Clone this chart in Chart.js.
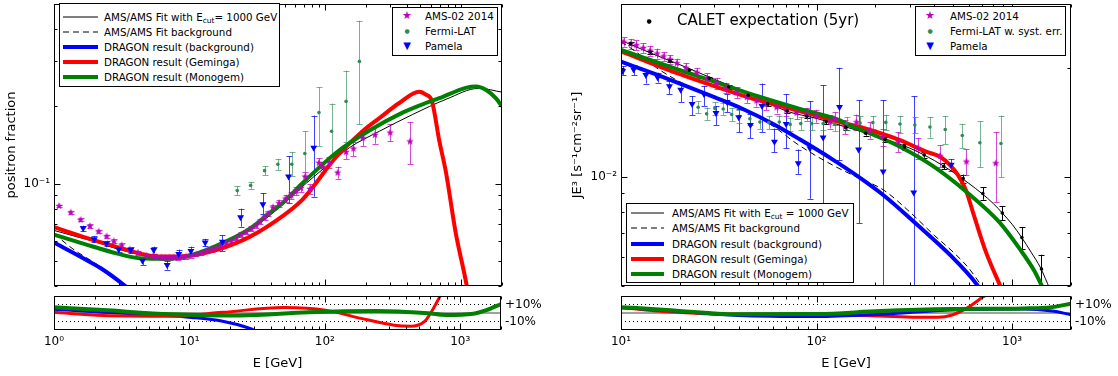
<!DOCTYPE html>
<html><head><meta charset="utf-8">
<script src="https://cdn.jsdelivr.net/npm/chart.js@4.4.1/dist/chart.umd.min.js"></script>
<style>
html,body{margin:0;padding:0;background:#fff;}
body{position:relative;width:1118px;height:376px;overflow:hidden;font-family:'DejaVu Sans',sans-serif;color:#000;}
canvas{position:absolute;}
.leg{position:absolute;border:1px solid #000;background:#fff;box-sizing:border-box;font-size:10.3px;}
.row{position:absolute;left:0;right:0;height:14px;line-height:14px;white-space:nowrap;}
.row svg{position:absolute;top:0;}
.row .t{position:absolute;top:0;}
.mk{position:absolute;top:0;width:16px;text-align:center;}
sub{font-size:7.5px;vertical-align:-2px;line-height:0;}
</style></head><body>
<canvas id="cLm" width="548" height="290" style="left:0;top:0"></canvas>
<canvas id="cLr" width="548" height="80" style="left:0;top:294px"></canvas>
<canvas id="cRm" width="558" height="290" style="left:560px;top:0"></canvas>
<canvas id="cRr" width="558" height="80" style="left:560px;top:294px"></canvas>

<div class="leg" style="left:59px;top:3px;width:221px;height:84px">
 <div class="row" style="top:6px"><svg style="left:3px" width="35" height="14"><line x1="0" y1="7" x2="35" y2="7" stroke="#000" stroke-width="1"/></svg><span class="t" style="left:44px">AMS/AMS Fit with E<sub>cut</sub>= 1000 GeV</span></div>
 <div class="row" style="top:21px"><svg style="left:3px" width="35" height="14"><line x1="0" y1="7" x2="35" y2="7" stroke="#000" stroke-width="1" stroke-dasharray="6,4"/></svg><span class="t" style="left:44px">AMS/AMS Fit background</span></div>
 <div class="row" style="top:36px"><svg style="left:3px" width="35" height="14"><line x1="0" y1="7" x2="35" y2="7" stroke="#0000ff" stroke-width="4"/></svg><span class="t" style="left:44px">DRAGON result (background)</span></div>
 <div class="row" style="top:51px"><svg style="left:3px" width="35" height="14"><line x1="0" y1="7" x2="35" y2="7" stroke="#ff0000" stroke-width="4"/></svg><span class="t" style="left:44px">DRAGON result (Geminga)</span></div>
 <div class="row" style="top:66px"><svg style="left:3px" width="35" height="14"><line x1="0" y1="7" x2="35" y2="7" stroke="#008000" stroke-width="4"/></svg><span class="t" style="left:44px">DRAGON result (Monogem)</span></div>
</div>

<div class="leg" style="left:392px;top:7px;width:106px;height:49px">
 <div class="row" style="top:1px"><span class="mk" style="left:6px;color:#bf00bf;font-size:11px">★</span><span class="t" style="left:32px">AMS-02 2014</span></div>
 <div class="row" style="top:16px"><span class="mk" style="left:6px;color:#2e8b57;font-size:6px">●</span><span class="t" style="left:32px">Fermi-LAT</span></div>
 <div class="row" style="top:31px"><span class="mk" style="left:6px;color:#0000ff;font-size:10px">▼</span><span class="t" style="left:32px">Pamela</span></div>
</div>

<div class="leg" style="left:915px;top:6px;width:151px;height:50px">
 <div class="row" style="top:2px"><span class="mk" style="left:6px;color:#bf00bf;font-size:11px">★</span><span class="t" style="left:34px">AMS-02 2014</span></div>
 <div class="row" style="top:17px"><span class="mk" style="left:6px;color:#2e8b57;font-size:6px">●</span><span class="t" style="left:34px">Fermi-LAT w. syst. err.</span></div>
 <div class="row" style="top:32px"><span class="mk" style="left:6px;color:#0000ff;font-size:10px">▼</span><span class="t" style="left:34px">Pamela</span></div>
</div>

<div style="position:absolute;left:641px;top:11px;width:16px;text-align:center;font-size:6px;line-height:20px">●</div>
<div style="position:absolute;left:677px;top:10px;font-size:15px;line-height:20px;white-space:nowrap">CALET expectation (5yr)</div>

<div class="leg" style="left:626px;top:203px;width:228px;height:80px">
 <div class="row" style="top:2px"><svg style="left:4px" width="33" height="14"><line x1="0" y1="7" x2="33" y2="7" stroke="#000" stroke-width="1"/></svg><span class="t" style="left:45px">AMS/AMS Fit with E<sub>cut</sub> = 1000 GeV</span></div>
 <div class="row" style="top:17px"><svg style="left:4px" width="33" height="14"><line x1="0" y1="7" x2="33" y2="7" stroke="#000" stroke-width="1" stroke-dasharray="6,4"/></svg><span class="t" style="left:45px">AMS/AMS Fit background</span></div>
 <div class="row" style="top:33px"><svg style="left:4px" width="33" height="14"><line x1="0" y1="7" x2="33" y2="7" stroke="#0000ff" stroke-width="4"/></svg><span class="t" style="left:45px">DRAGON result (background)</span></div>
 <div class="row" style="top:48px"><svg style="left:4px" width="33" height="14"><line x1="0" y1="7" x2="33" y2="7" stroke="#ff0000" stroke-width="4"/></svg><span class="t" style="left:45px">DRAGON result (Geminga)</span></div>
 <div class="row" style="top:63px"><svg style="left:4px" width="33" height="14"><line x1="0" y1="7" x2="33" y2="7" stroke="#008000" stroke-width="4"/></svg><span class="t" style="left:45px">DRAGON result (Monogem)</span></div>
</div>

<script>
// ================= LEFT PANEL: positron fraction =================
const xTicksLeft = [1, 10, 100, 1000];
const xTickLabelsLeft = ['10⁰', '10¹', '10²', '10³'];
const yTickLeft = [0.1];
const yTickLabelLeft = ['10⁻¹'];

const fitL_E = [1, 1.5, 2, 3, 4, 5, 7, 10, 15, 20, 30, 50, 70, 100, 150, 250, 440, 775, 1350, 2000];
const fitL_V = [0.0658, 0.062, 0.0595, 0.0555, 0.0535, 0.0522, 0.0515, 0.0523, 0.0565, 0.0605, 0.068, 0.084, 0.099, 0.116, 0.138, 0.160, 0.186, 0.213, 0.235, 0.227];
const bkgL_E = [1, 1.27, 1.47, 1.74, 2.2, 3.2, 4.5];
const bkgL_V = [0.064, 0.0576, 0.0544, 0.0515, 0.0475, 0.041, 0.035];
const blueL_E = [1, 1.64, 2.2, 3.23, 4.5];
const blueL_V = [0.059, 0.0513, 0.047, 0.0406, 0.035];
const redL_E = [1, 1.64, 2.89, 5.08, 7.1, 10, 15.7, 27.6, 48.6, 68, 120, 188, 250, 350, 490, 550, 610, 690, 775, 910, 1100, 1200];
const redL_V = [0.0677, 0.0621, 0.0568, 0.0525, 0.0521, 0.0525, 0.0552, 0.0621, 0.075, 0.0869, 0.127, 0.160, 0.180, 0.206, 0.228, 0.222, 0.209, 0.147, 0.11, 0.0648, 0.040, 0.030];
const greenL_E = [1, 1.64, 2.89, 4.28, 7.1, 10, 15.7, 27.6, 38.7, 48.6, 68, 120, 211, 370, 550, 690, 1080, 1290, 1520, 1800, 2000];
const greenL_V = [0.0633, 0.0585, 0.0536, 0.0513, 0.051, 0.0525, 0.0573, 0.0667, 0.0768, 0.0844, 0.1006, 0.132, 0.161, 0.189, 0.206, 0.215, 0.236, 0.239, 0.232, 0.215, 0.2];

const amsL_E = [1.09, 1.33, 1.57, 1.84, 2.13, 2.44, 2.76, 3.15, 3.62, 4.15, 4.8, 5.35, 5.7, 6.2, 6.6, 7.1, 7.6, 8.2, 8.8, 9.45, 10.3, 11.2, 12.2, 13.3, 14.5, 15.7, 17, 18.6, 20.3, 22.1, 24, 26.1, 28.5, 30.9, 33, 35.6, 38, 41, 45.4, 50.8, 56, 61, 66, 71, 77, 89.6, 95.6, 107, 123, 142, 161, 188, 232, 300, 420];
const amsL_V = [0.0819, 0.0773, 0.0724, 0.0684, 0.0652, 0.0624, 0.0597, 0.0576, 0.0555, 0.0539, 0.0525, 0.0521, 0.0519, 0.0517, 0.0516, 0.0517, 0.0518, 0.0517, 0.0519, 0.0521, 0.0526, 0.0531, 0.0538, 0.0547, 0.0555, 0.0563, 0.0573, 0.0585, 0.0598, 0.0615, 0.0633, 0.0649, 0.0668, 0.0687, 0.0712, 0.0740, 0.0765, 0.0808, 0.0840, 0.0875, 0.0900, 0.0935, 0.0963, 0.1066, 0.0954, 0.1206, 0.1164, 0.1206, 0.1104, 0.1328, 0.1369, 0.1508, 0.155, 0.158, 0.146];
const amsL_Err = [0.001, 0.001, 0.001, 0.001, 0.001, 0.001, 0.001, 0.001, 0.001, 0.001, 0.001, 0.001, 0.001, 0.001, 0.001, 0.001, 0.001, 0.001, 0.001, 0.001, 0.001, 0.001, 0.001, 0.001, 0.0011, 0.0012, 0.0012, 0.0012, 0.0013, 0.0013, 0.0014, 0.0014, 0.0015, 0.0015, 0.0016, 0.0017, 0.0018, 0.002, 0.0025, 0.003, 0.003, 0.0035, 0.0035, 0.004, 0.004, 0.005, 0.005, 0.006, 0.006, 0.008, 0.009, 0.011, 0.012, 0.012, 0.027];

const fermiL_E = [22.4, 28.1, 35.6, 44.6, 56.5, 70.5, 89.6, 111, 142, 178];
const fermiL_V = [0.094, 0.0985, 0.1124, 0.119, 0.119, 0.131, 0.189, 0.160, 0.209, 0.299];
const fermiL_Lo = [0.090, 0.0955, 0.108, 0.113, 0.107, 0.107, 0.140, 0.127, 0.145, 0.17];
const fermiL_Hi = [0.098, 0.1015, 0.117, 0.125, 0.133, 0.160, 0.237, 0.205, 0.275, 0.43];

const pamL_E = [1.64, 1.98, 2.44, 3.0, 3.68, 4.49, 5.43, 6.82, 8.3, 10.2, 13.0, 17.4, 23.7, 34.6, 53.5, 82];
const pamL_V = [0.0671, 0.0608, 0.0585, 0.0555, 0.0552, 0.0501, 0.0552, 0.0483, 0.0533, 0.0547, 0.059, 0.0594, 0.074, 0.0832, 0.1066, 0.138];
const pamL_Lo = [0.0655, 0.0592, 0.057, 0.054, 0.0537, 0.0483, 0.0535, 0.0463, 0.0512, 0.0525, 0.057, 0.0547, 0.068, 0.076, 0.084, 0.089];
const pamL_Hi = [0.0687, 0.0624, 0.06, 0.057, 0.0567, 0.0519, 0.0569, 0.050, 0.0554, 0.0569, 0.061, 0.063, 0.080, 0.092, 0.128, 0.184];

// residuals (left)
const resRefL = [1, 2000];
const resGreenL_E = [1, 2.3, 7.4, 23.6, 75, 240, 580, 780, 1250, 1560, 2000];
const resGreenL_R = [0.068, 0.034, -0.015, -0.03, 0.008, 0.023, -0.004, -0.023, -0.008, 0.034, 0.106];
const resRedL_E = [1, 2.3, 7.4, 17.6, 50, 101, 181, 325, 430, 546, 613, 710, 780];
const resRedL_R = [0.008, -0.03, -0.038, 0.008, 0.064, 0.034, -0.06, -0.143, -0.155, -0.098, 0.015, 0.196, 0.3];
const resBlueL_E = [1, 2.3, 5.5, 10.4, 17.6, 29, 33];
const resBlueL_R = [0.045, 0.008, -0.023, -0.053, -0.098, -0.19, -0.23];

// ================= RIGHT PANEL: E^3 flux =================
const xTicksRight = [10, 100, 1000];
const xTickLabelsRight = ['10¹', '10²', '10³'];
const yTickRight = [0.01];
const yTickLabelRight = ['10⁻²'];

const fitR_E = [10, 15, 20, 30, 45, 70, 100, 150, 225, 300, 400, 500, 600, 700, 800, 900, 1000, 1120, 1250, 1400, 1560];
const fitR_V = [0.0238, 0.0217, 0.0204, 0.0186, 0.0170, 0.0152, 0.0145, 0.0136, 0.0127, 0.0120, 0.0111, 0.0103, 0.0096, 0.0090, 0.00845, 0.0079, 0.0074, 0.0068, 0.0062, 0.0056, 0.0049];
const bkgR_E = [10, 12, 15, 20, 30, 45, 60, 80, 120, 160, 220, 300, 400, 500, 600, 700];
const bkgR_V = [0.0236, 0.0221, 0.0201, 0.0183, 0.0166, 0.0151, 0.0138, 0.0123, 0.0108, 0.0100, 0.0092, 0.0080, 0.0069, 0.0062, 0.0056, 0.0050];
const blueR_E = [10, 15, 20, 30, 42, 60, 82, 120, 160, 220, 325, 480, 660, 720];
const blueR_V = [0.0208, 0.0192, 0.0181, 0.0166, 0.0154, 0.0140, 0.0127, 0.0112, 0.0101, 0.0089, 0.0074, 0.0061, 0.00505, 0.0047];
const redR_E = [10, 20, 30, 50, 82, 130, 167, 267, 366, 428, 480, 530, 580, 630, 735, 870];
const redR_V = [0.0222, 0.0192, 0.0178, 0.0163, 0.0152, 0.0142, 0.01373, 0.01263, 0.01172, 0.01137, 0.0108, 0.0101, 0.0092, 0.0080, 0.0062, 0.0050];
const greenR_E = [10, 20, 28.5, 50, 82, 131, 148, 200, 267, 396, 583, 860, 1100, 1300, 1420];
const greenR_V = [0.0224, 0.0197, 0.0185, 0.0167, 0.01541, 0.01434, 0.01387, 0.0130, 0.01211, 0.01069, 0.00910, 0.0075, 0.0063, 0.0055, 0.0050];

const amsR_E = [10.3, 11.2, 12.0, 13.0, 14.1, 15.3, 16.5, 17.8, 19.3, 21.5, 24.4, 27.5, 30.8, 34.5, 39, 44, 49.3, 55, 62.4, 70, 79, 89, 99.8, 117, 124, 140, 160, 187, 218, 262, 330, 428, 584, 825];
const amsR_V = [0.0236, 0.0233, 0.0231, 0.0227, 0.0223, 0.0219, 0.0215, 0.0211, 0.0206, 0.0200, 0.0194, 0.0187, 0.0181, 0.0176, 0.0171, 0.0166, 0.01623, 0.0159, 0.01556, 0.0153, 0.01503, 0.0149, 0.01471, 0.0142, 0.01447, 0.01373, 0.01416, 0.01344, 0.0129, 0.0125, 0.0120, 0.01143, 0.01102, 0.01091];
const amsR_Err = [0.0007, 0.0007, 0.0007, 0.0007, 0.0007, 0.0007, 0.0006, 0.0006, 0.0006, 0.0006, 0.0006, 0.0006, 0.0006, 0.0006, 0.0006, 0.0006, 0.0006, 0.0006, 0.0006, 0.0006, 0.0006, 0.0006, 0.0006, 0.0006, 0.0006, 0.0006, 0.0007, 0.0007, 0.0007, 0.0008, 0.0008, 0.0008, 0.0009, 0.0024];

const calR_E = [11.2, 14.1, 17.8, 22.4, 28.2, 35.5, 44.7, 56.2, 70.8, 89.1, 112, 141, 178, 224, 282, 355, 447, 562, 708, 891, 1122, 1413];
const calR_V = [0.0233, 0.0221, 0.0209, 0.0197, 0.0187, 0.0177, 0.0168, 0.0159, 0.0152, 0.0147, 0.0142, 0.0137, 0.0132, 0.0127, 0.0121, 0.0115, 0.0107, 0.0099, 0.0090, 0.00795, 0.0068, 0.00557];
const calR_Err = [0.0002, 0.0002, 0.0002, 0.0002, 0.0002, 0.0002, 0.0002, 0.0002, 0.0002, 0.0002, 0.0002, 0.0002, 0.0002, 0.0002, 0.0002, 0.0002, 0.0002, 0.00025, 0.00035, 0.00035, 0.00047, 0.00053];

const fermiR_E = [24.8, 27.4, 30.2, 33.3, 36.8, 40.3, 45.6, 51.3, 57, 64.5, 73.3, 83, 94.4, 108, 124, 142.5, 167, 194, 226, 267, 318, 380, 455, 556, 684, 877];
const fermiR_V = [0.01557, 0.01493, 0.01546, 0.0154, 0.01486, 0.0147, 0.01447, 0.01417, 0.01412, 0.01417, 0.01396, 0.01403, 0.01403, 0.01403, 0.01396, 0.01403, 0.01408, 0.01412, 0.01414, 0.01399, 0.0139, 0.01373, 0.01351, 0.01301, 0.01242, 0.01237];
const fermiR_Err = [0.0006, 0.0006, 0.0006, 0.0006, 0.0006, 0.0006, 0.0006, 0.0006, 0.0006, 0.0006, 0.0006, 0.0006, 0.0006, 0.0006, 0.0006, 0.0006, 0.0006, 0.0006, 0.0007, 0.00075, 0.0007, 0.0009, 0.0012, 0.0010, 0.0018, 0.0024];

const pamR_E = [10.2, 11.6, 13.4, 15.4, 17.7, 20.2, 23.1, 26.6, 30.6, 34.9, 40, 45.9, 52.6, 60.9, 69.9, 80.6, 92.5, 108, 131, 164, 219, 314, 488];
const pamR_V = [0.0196, 0.0198, 0.0191, 0.0188, 0.0178, 0.0174, 0.0159, 0.0169, 0.0150, 0.0161, 0.0146, 0.0139, 0.0157, 0.0125, 0.0140, 0.0109, 0.0120, 0.01285, 0.0156, 0.0119, 0.01035, 0.00905, 0.0108];
const pamR_Lo = [0.0191, 0.0191, 0.0181, 0.0182, 0.0169, 0.0161, 0.0148, 0.0157, 0.0139, 0.0151, 0.0133, 0.0128, 0.0133, 0.0117, 0.0120, 0.0102, 0.0087, 0.004, 0.0111, 0.00746, 0.004, 0.004, 0.0104];
const pamR_Hi = [0.0202, 0.0203, 0.0197, 0.0194, 0.0184, 0.0180, 0.0167, 0.0178, 0.0157, 0.0169, 0.0154, 0.0149, 0.0181, 0.0136, 0.0169, 0.0119, 0.0162, 0.0179, 0.0200, 0.0163, 0.0163, 0.0167, 0.0112];

// residuals (right)
const resRefR = [10, 2000];
const resGreenR_E = [10, 17.1, 39.7, 100, 212, 494, 1140, 1600, 2000];
const resGreenR_R = [0.069, 0.035, -0.015, -0.012, 0.023, 0.046, 0.054, 0.069, 0.11];
const resRedR_E = [10, 17.1, 39.7, 100, 212, 324, 417, 494, 584, 690, 736, 800];
const resRedR_R = [0.066, 0.015, -0.015, -0.015, -0.035, -0.05, -0.05, -0.023, 0.054, 0.17, 0.215, 0.3];
const resBlueR_E = [10, 17.1, 39.7, 100, 212, 494, 1140, 1600, 2000];
const resBlueR_R = [0.063, 0.03, -0.03, -0.042, -0.015, 0.035, 0.046, 0.023, -0.02];

// ================= helpers =================
const C = {blue:'#0000ff', red:'#ff0000', green:'#008000', mag:'#bf00bf', fermi:'#2e8b57'};
const FONT = "'DejaVu Sans', sans-serif";
const pts = (xs, ys) => xs.map((x, i) => ({x: x, y: ys[i]}));

function starImg(color, r) {
  const s = Math.ceil(r * 2 + 2);
  const c = document.createElement('canvas'); c.width = s; c.height = s;
  const g = c.getContext('2d'); g.fillStyle = color; g.beginPath();
  for (let k = 0; k < 10; k++) {
    const a = -Math.PI / 2 + k * Math.PI / 5; const rr = (k % 2) ? r * 0.42 : r;
    g.lineTo(s / 2 + rr * Math.cos(a), s / 2 + rr * Math.sin(a));
  }
  g.closePath(); g.fill(); return c;
}
const STAR = starImg(C.mag, 4);

function curve(xs, ys, color, width, dash) {
  return {data: pts(xs, ys), showLine: true, borderColor: color, backgroundColor: color,
    borderWidth: width, borderDash: dash || [], pointRadius: 0, pointHoverRadius: 0,
    cubicInterpolationMode: 'monotone', fill: false, clip: 0};
}
function marks(xs, ys, lo, hi, opt) {
  return Object.assign({data: pts(xs, ys), showLine: false, errLo: lo, errHi: hi, clip: 0,
    pointBorderWidth: 0}, opt);
}
const minus = (v, e) => v.map((a, i) => a - e[i]);
const plus = (v, e) => v.map((a, i) => a + e[i]);

const errPlugin = {
  id: 'errbars',
  beforeDatasetsDraw(chart) {
    const {ctx, chartArea: a, scales: {x, y}} = chart;
    ctx.save(); ctx.beginPath(); ctx.rect(a.left, a.top, a.right - a.left, a.bottom - a.top); ctx.clip();
    chart.data.datasets.forEach(ds => {
      if (!ds.errLo) return;
      ctx.strokeStyle = ds.errColor; ctx.lineWidth = 1;
      ds.data.forEach((p, i) => {
        const px = Math.round(x.getPixelForValue(p.x)) + 0.5;
        const y1 = y.getPixelForValue(ds.errLo[i]), y2 = y.getPixelForValue(ds.errHi[i]);
        ctx.beginPath();
        ctx.moveTo(px, y1); ctx.lineTo(px, y2);
        ctx.moveTo(px - 3, Math.round(y1) + 0.5); ctx.lineTo(px + 3, Math.round(y1) + 0.5);
        ctx.moveTo(px - 3, Math.round(y2) + 0.5); ctx.lineTo(px + 3, Math.round(y2) + 0.5);
        ctx.stroke();
      });
    });
    ctx.restore();
  }
};

function logVals(mn, mx) {
  const out = [];
  for (let d = Math.floor(Math.log10(mn)); d <= Math.ceil(Math.log10(mx)); d++) {
    for (let m = 1; m < 10; m++) {
      const v = m * Math.pow(10, d);
      if (v >= mn * 0.9999 && v <= mx * 1.0001) out.push([v, m === 1]);
    }
  }
  return out;
}
const framePlugin = {
  id: 'frame',
  afterDraw(chart) {
    const {ctx, chartArea: a} = chart; const xs = chart.scales.x, ys = chart.scales.y;
    const L = Math.round(a.left) + 0.5, R = Math.round(a.right) - 0.5, T = Math.round(a.top) + 0.5, B = Math.round(a.bottom) - 0.5;
    ctx.save(); ctx.strokeStyle = '#000'; ctx.lineWidth = 1; ctx.beginPath();
    logVals(xs.min, xs.max).forEach(([v, maj]) => {
      const px = Math.round(xs.getPixelForValue(v)) + 0.5; const len = maj ? 6 : 3;
      ctx.moveTo(px, B); ctx.lineTo(px, B - len); ctx.moveTo(px, T); ctx.lineTo(px, T + len);
    });
    if (ys.type === 'logarithmic') {
      logVals(ys.min, ys.max).forEach(([v, maj]) => {
        const py = Math.round(ys.getPixelForValue(v)) + 0.5; const len = maj ? 6 : 3;
        ctx.moveTo(L, py); ctx.lineTo(L + len, py); ctx.moveTo(R, py); ctx.lineTo(R - len, py);
      });
    }
    ctx.stroke();
    ctx.strokeRect(L, T, R - L, B - T);
    ctx.restore();
  }
};

function noPad(s) { s.paddingTop = 0; s.paddingBottom = 0; s.paddingLeft = 0; s.paddingRight = 0; }

function mainOpts(xmin, xmax, ymin, ymax, yw, padR, yTicks, yLabels, title, titlePad) {
  return {
    responsive: false, animation: false, devicePixelRatio: 1,
    layout: {padding: {top: 2, right: padR, bottom: 2, left: 0}},
    plugins: {legend: {display: false}, tooltip: {enabled: false}},
    scales: {
      x: {type: 'logarithmic', min: xmin, max: xmax, display: false},
      y: {type: 'logarithmic', min: ymin, max: ymax, position: 'left',
        afterFit: s => { s.width = yw; noPad(s); },
        afterBuildTicks: s => { s.ticks = yTicks.map(v => ({value: v})); },
        ticks: {callback: (v, i) => yLabels[i], font: {size: 12, family: FONT}, color: '#000', padding: 4, autoSkip: false},
        grid: {display: false, drawTicks: false}, border: {display: false},
        title: {display: true, text: title, font: {size: 13, family: FONT}, color: '#000', padding: {top: titlePad, bottom: 0}}
      }
    }
  };
}
function resOpts(xmin, xmax, padL, xTicks, xLabels) {
  return {
    responsive: false, animation: false, devicePixelRatio: 1,
    layout: {padding: {top: 2, right: 0, bottom: 0, left: padL}},
    plugins: {legend: {display: false}, tooltip: {enabled: false}},
    scales: {
      x: {type: 'logarithmic', min: xmin, max: xmax, position: 'bottom',
        afterFit: s => { s.height = 44; noPad(s); },
        afterBuildTicks: s => { s.ticks = xTicks.map(v => ({value: v})); },
        ticks: {callback: (v, i) => xLabels[i], font: {size: 12, family: FONT}, color: '#000', padding: 5, autoSkip: false, maxRotation: 0},
        grid: {display: false, drawTicks: false}, border: {display: false},
        title: {display: true, text: 'E [GeV]', font: {size: 13, family: FONT}, color: '#000', padding: {top: 2, bottom: 3}}
      },
      y: {type: 'linear', min: -0.2, max: 0.2, position: 'right',
        afterFit: s => { s.width = 47; noPad(s); },
        afterBuildTicks: s => { s.ticks = [{value: -0.1}, {value: 0.1}]; },
        ticks: {callback: v => (v > 0 ? '+10%' : '-10%'), font: {size: 12, family: FONT}, color: '#000', padding: 4, autoSkip: false},
        grid: {display: false, drawTicks: false}, border: {display: false}
      }
    }
  };
}
function refLines(xr) {
  return [
    Object.assign(curve(xr, [0, 0], '#808080', 1.5), {cubicInterpolationMode: 'default'}),
    curve(xr, [0.1, 0.1], '#000', 1, [1, 3]),
    curve(xr, [-0.1, -0.1], '#000', 1, [1, 3])
  ];
}

// ---- left main
new Chart(document.getElementById('cLm'), {
  type: 'scatter',
  data: {datasets: [
    marks(pamL_E, pamL_V, pamL_Lo, pamL_Hi, {pointStyle: 'triangle', rotation: 180, pointRadius: 4, backgroundColor: C.blue, borderColor: C.blue, errColor: 'rgba(0,0,255,0.75)'}),
    marks(amsL_E, amsL_V, minus(amsL_V, amsL_Err), plus(amsL_V, amsL_Err), {pointStyle: STAR, errColor: 'rgba(191,0,191,0.7)'}),
    marks(fermiL_E, fermiL_V, fermiL_Lo, fermiL_Hi, {pointStyle: 'circle', pointRadius: 1.8, backgroundColor: C.fermi, borderColor: C.fermi, errColor: 'rgba(46,139,87,0.65)'}),
    curve(greenL_E, greenL_V, C.green, 4),
    curve(redL_E, redL_V, C.red, 4),
    curve(blueL_E, blueL_V, C.blue, 4),
    curve(bkgL_E, bkgL_V, '#000', 1, [6, 4]),
    curve(fitL_E, fitL_V, '#000', 1)
  ]},
  options: mainOpts(1, 2000, 0.04, 0.5, 54, 46, yTickLeft, yTickLabelLeft, 'positron fraction', 4),
  plugins: [errPlugin, framePlugin]
});

// ---- left residual
new Chart(document.getElementById('cLr'), {
  type: 'scatter',
  data: {datasets: [
    curve(resGreenL_E, resGreenL_R, C.green, 4),
    curve(resRedL_E, resRedL_R, C.red, 3),
    curve(resBlueL_E, resBlueL_R, C.blue, 3),
    ...refLines(resRefL)
  ]},
  options: resOpts(1, 2000, 54, xTicksLeft, xTickLabelsLeft),
  plugins: [framePlugin]
});

// ---- right main
new Chart(document.getElementById('cRm'), {
  type: 'scatter',
  data: {datasets: [
    marks(calR_E, calR_V, minus(calR_V, calR_Err), plus(calR_V, calR_Err), {pointStyle: 'circle', pointRadius: 1.8, backgroundColor: '#000', borderColor: '#000', errColor: '#000'}),
    marks(pamR_E, pamR_V, pamR_Lo, pamR_Hi, {pointStyle: 'triangle', rotation: 180, pointRadius: 4, backgroundColor: C.blue, borderColor: C.blue, errColor: 'rgba(0,0,255,0.75)'}),
    marks(amsR_E, amsR_V, minus(amsR_V, amsR_Err), plus(amsR_V, amsR_Err), {pointStyle: STAR, errColor: 'rgba(191,0,191,0.7)'}),
    marks(fermiR_E, fermiR_V, minus(fermiR_V, fermiR_Err), plus(fermiR_V, fermiR_Err), {pointStyle: 'circle', pointRadius: 1.8, backgroundColor: C.fermi, borderColor: C.fermi, errColor: 'rgba(46,139,87,0.65)'}),
    curve(greenR_E, greenR_V, C.green, 4),
    curve(redR_E, redR_V, C.red, 4),
    curve(blueR_E, blueR_V, C.blue, 4),
    curve(bkgR_E, bkgR_V, '#000', 1, [6, 4]),
    curve(fitR_E, fitR_V, '#000', 1)
  ]},
  options: mainOpts(10, 2000, 0.005, 0.03, 61, 47, yTickRight, yTickLabelRight, 'JE³ [s⁻¹cm⁻²sr⁻¹]', 10),
  plugins: [errPlugin, framePlugin]
});

// ---- right residual
new Chart(document.getElementById('cRr'), {
  type: 'scatter',
  data: {datasets: [
    curve(resGreenR_E, resGreenR_R, C.green, 4),
    curve(resBlueR_E, resBlueR_R, C.blue, 3),
    curve(resRedR_E, resRedR_R, C.red, 3),
    ...refLines(resRefR)
  ]},
  options: resOpts(10, 2000, 61, xTicksRight, xTickLabelsRight),
  plugins: [framePlugin]
});
</script>
</body></html>
